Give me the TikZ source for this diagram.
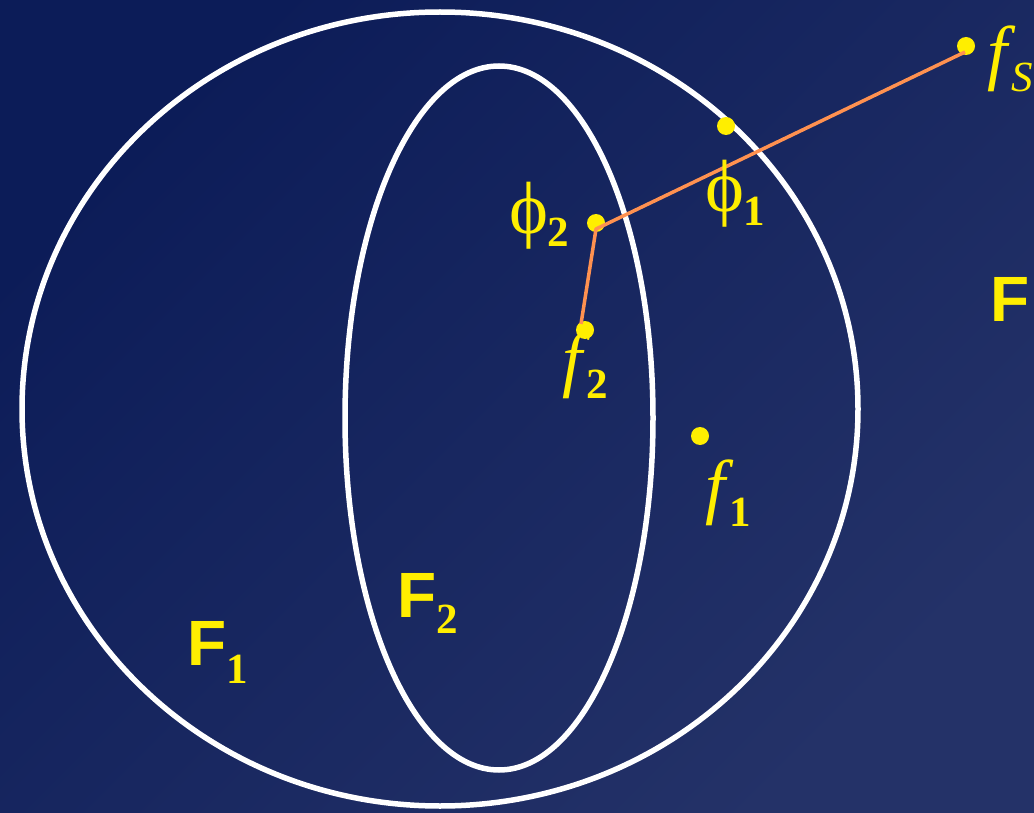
\documentclass[tikz,border=0pt]{standalone}
\usepackage{fontspec}
\setmainfont{Liberation Serif}
\newfontfamily\serifF{Liberation Serif}
\newfontfamily\sansF{Liberation Sans}
\definecolor{bgA}{RGB}{12,28,88}
\definecolor{bgB}{RGB}{36,50,104}
\definecolor{yel}{RGB}{255,238,0}
\definecolor{org}{RGB}{255,145,80}
\newcommand\mysub[2]{\raisebox{-#1}{\fontsize{43}{43}\selectfont\serifF #2}}
\tikzset{
  flab/.style={text=yel, inner sep=0pt, anchor=base west, font=\serifF\itshape\fontsize{72}{72}\selectfont},
  plab/.style={text=yel, inner sep=0pt, anchor=base west, font=\serifF\fontsize{74}{74}\selectfont},
  setlab/.style={text=yel, inner sep=0pt, anchor=base west, font=\sansF\bfseries\fontsize{64}{64}\selectfont},
  dot/.style={circle, fill=yel, inner sep=0pt, minimum size=18pt},
  ring/.style={draw=white, line width=5.5pt},
  path/.style={draw=org, line width=3.5pt, line join=round}
}
\begin{document}
\begin{tikzpicture}[x=1pt,y=-1pt]
\useasboundingbox (0,0) rectangle (1034,813);
\shade[top color=bgA, bottom color=bgB, shading angle=45] (0,0) rectangle (1034,813);
\draw[ring] (440,409) ellipse [x radius=418, y radius=397];
\draw[ring] (499,418) ellipse [x radius=154, y radius=352];
\node[dot] (dfs) at (966,46) {};
\node[dot] (dp1) at (726,126) {};
\node[dot] (dph2) at (596,223) {};
\node[dot] (df2) at (585,330) {};
\node[dot] (df1) at (700,436) {};
\coordinate (a) at (965,52);
\coordinate (b) at (596,229);
\coordinate (c) at (581,324);
\draw[path] (a) -- (b) -- (c);
\node[flab] (lfs) at (987,77) {f\kern4pt\mysub{15pt}{\itshape S}};
\node[plab] (lph1) at (705,212) {ϕ\kern-1pt\mysub{14pt}{\bfseries 1}};
\node[plab] (lph2) at (509,234) {ϕ\kern-1pt\mysub{13pt}{\bfseries 2}};
\node[flab] (lf2) at (562,383) {f\kern4pt\mysub{15pt}{\upshape\bfseries 2}};
\node[flab] (lf1) at (705,510) {f\kern4pt\mysub{16pt}{\upshape\bfseries 1}};
\node[setlab] (lF) at (990,321) {F};
\node[setlab] (lF2) at (397,617) {F\mysub{16pt}{\bfseries 2}};
\node[setlab] (lF1) at (187,665) {F\mysub{18pt}{\bfseries 1}};
\end{tikzpicture}
\end{document}
